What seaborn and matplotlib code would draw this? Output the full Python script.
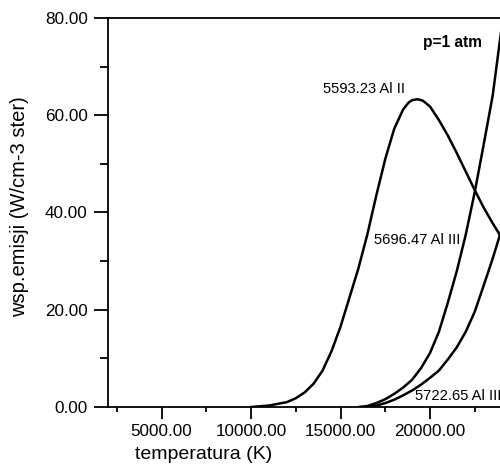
import numpy as np
import pandas as pd
import matplotlib
matplotlib.use("Agg")
import matplotlib.pyplot as plt
import seaborn as sns
from matplotlib.ticker import MultipleLocator, FormatStrFormatter

# --- data ---
t_al2 = [10000, 11000, 12000, 12500, 13000, 13500, 14000, 14500, 15000, 15500,
         16000, 16500, 17000, 17500, 18000, 18500, 18800, 19000, 19300, 19600,
         20000, 20500, 21000, 21500, 22000, 22500, 23000, 23500, 24000]
v_al2 = [0.0, 0.3, 1.0, 1.8, 3.0, 4.8, 7.5, 11.5, 16.5, 22.5,
         28.5, 35.5, 43.5, 51.0, 57.2, 61.2, 62.6, 63.1, 63.3, 63.0,
         61.8, 59.0, 55.8, 52.2, 48.4, 44.6, 41.0, 37.8, 34.8]

t_al3a = [16000, 16500, 17000, 17500, 18000, 18500, 19000, 19500, 20000, 20500,
          21000, 21500, 22000, 22500, 23000, 23500, 24000]
v_al3a = [0.0, 0.2, 0.8, 1.6, 2.7, 4.0, 5.6, 8.0, 11.1, 15.5,
          21.5, 28.0, 35.5, 44.2, 54.0, 64.0, 78.0]

t_al3b = [16500, 17000, 17500, 18000, 18500, 19000, 19500, 20000, 20500, 21000,
          21500, 22000, 22500, 23000, 23500, 24000]
v_al3b = [0.0, 0.3, 0.8, 1.5, 2.4, 3.4, 4.6, 6.0, 7.5, 9.8,
          12.3, 15.5, 19.6, 25.0, 30.5, 36.5]

line_names = ["5593.23 Al II", "5696.47 Al III", "5722.65 Al III"]
x_ticks = [5000, 10000, 15000, 20000]
y_ticks = [0, 20, 40, 60, 80]

df = pd.concat([
    pd.DataFrame({"T": t_al2, "v": v_al2, "line": line_names[0]}),
    pd.DataFrame({"T": t_al3a, "v": v_al3a, "line": line_names[1]}),
    pd.DataFrame({"T": t_al3b, "v": v_al3b, "line": line_names[2]}),
])

sns.set_style("ticks")
plt.rcParams["font.family"] = ["Liberation Sans", "DejaVu Sans"]
plt.rcParams["text.color"] = "black"
plt.rcParams["axes.labelcolor"] = "black"

W, H = 500, 465
fig = plt.figure(figsize=(W / 100, H / 100), dpi=100)
# axes extends past the right edge of the picture (cropped like the reference)
ax_w = 429.6
ax = fig.add_axes([107.8 / W, 1 - 407 / H, ax_w / W, 389 / H])

sns.lineplot(data=df, x="T", y="v", units="line", estimator=None,
             color="black", linewidth=1.8, ax=ax, legend=False, sort=True)

ax.set_xlim(2000, 26000)
ax.set_ylim(0, 80)
ax.set_xticks(x_ticks)
ax.set_yticks(y_ticks)
ax.xaxis.set_minor_locator(MultipleLocator(2500))
ax.yaxis.set_minor_locator(MultipleLocator(10))
ax.xaxis.set_major_formatter(FormatStrFormatter("%.2f"))
ax.yaxis.set_major_formatter(FormatStrFormatter("%.2f"))

for s in ax.spines.values():
    s.set_linewidth(1.3)
    s.set_color("black")

ax.tick_params(axis="x", which="major", length=8.5, width=1.3, pad=4,
               labelsize=12.3, colors="black")
ax.tick_params(axis="x", which="minor", length=3.8, width=1.3, colors="black")
ax.tick_params(axis="y", which="major", length=10, width=1.3, pad=4.5,
               labelsize=12.3, colors="black")
ax.tick_params(axis="y", which="minor", length=5.8, width=1.3, colors="black")

ax.set_xlabel("temperatura (K)", fontsize=14, color="black")
ax.set_ylabel("wsp.emisji (W/cm-3 ster)", fontsize=14.5, color="black")
ax.xaxis.set_label_coords((204 - 107.8) / ax_w, -(446 - 407) / 389)
ax.yaxis.set_label_coords(-(107.8 - 29) / ax_w, 0.514)

ax.text(14022, 65.4, line_names[0], fontsize=10.6, va="center", ha="left",
        color="black")
ax.text(19609, 74.9, "p=1 atm", fontsize=11.2, fontweight="bold",
        va="center", ha="left", color="black")
ax.text(21676, 34.3, line_names[1], fontsize=10.6, va="center", ha="right",
        color="black")
ax.text(19162, 2.3, line_names[2], fontsize=10.6, va="center", ha="left",
        color="black")

fig.savefig("out.png", dpi=100)
